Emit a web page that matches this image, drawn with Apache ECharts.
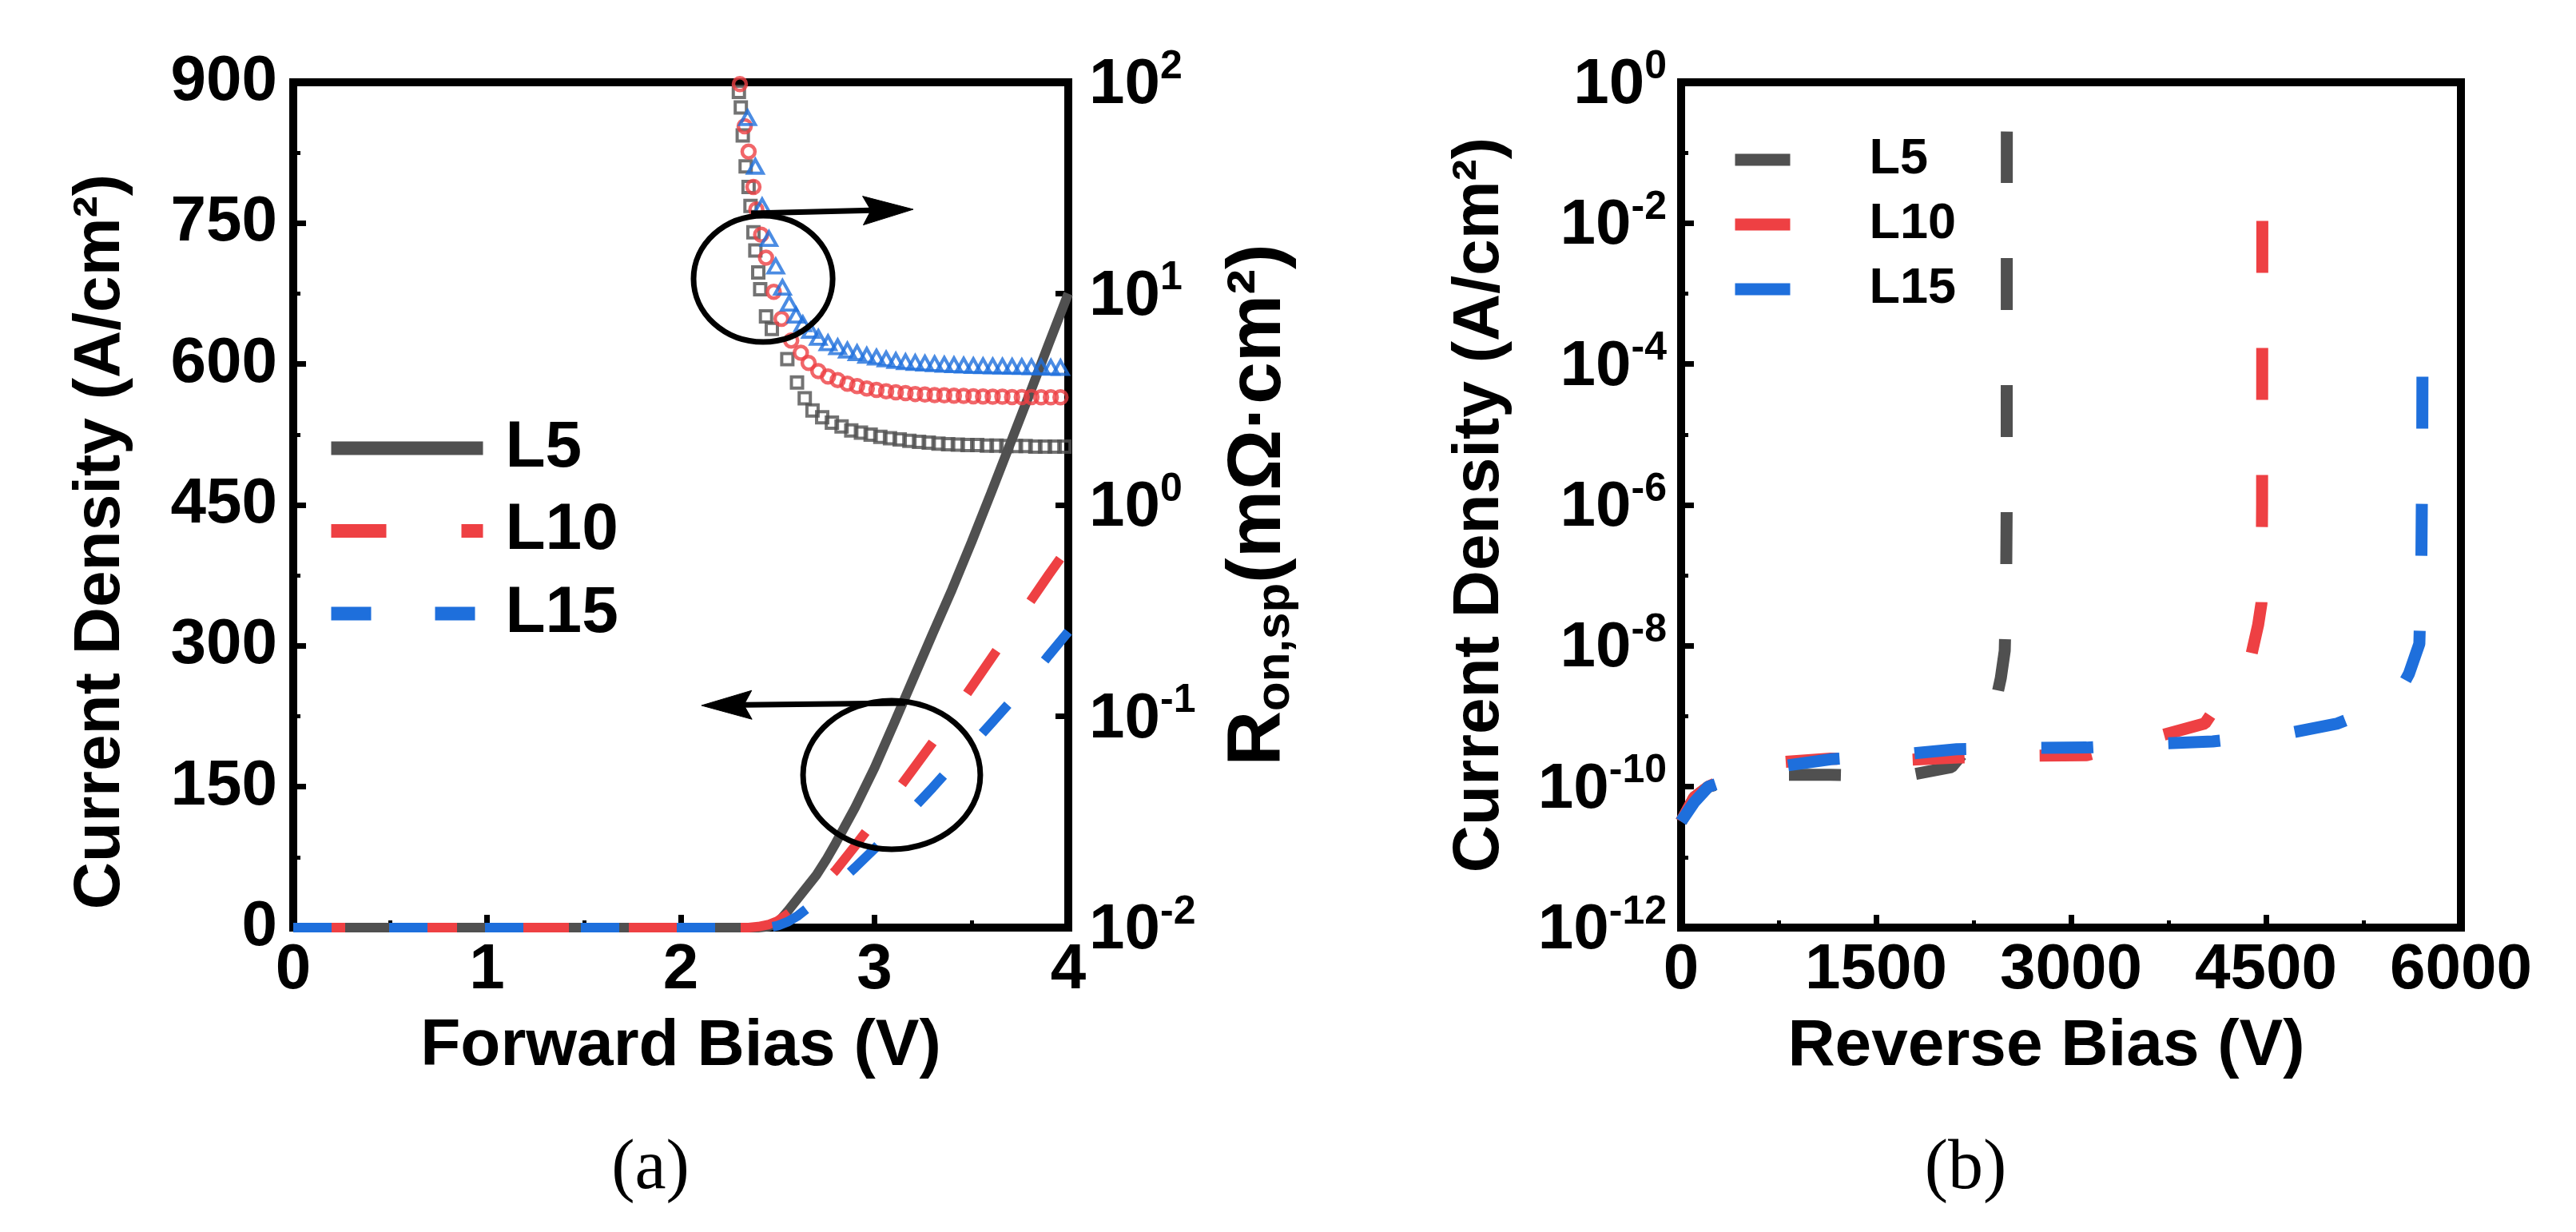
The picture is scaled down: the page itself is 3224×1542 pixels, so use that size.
<!DOCTYPE html>
<html>
<head>
<meta charset="utf-8">
<script src="https://cdn.jsdelivr.net/npm/echarts@6/dist/echarts.min.js"></script>
<style>
html,body{margin:0;padding:0;background:#fff;}
#c{width:3224px;height:1542px;}
</style>
</head>
<body>
<div id="c"></div>
<script>
// ---------------- DATA ----------------
// Panel (a): forward J-V curves  [V, J (A/cm^2)]
const fwdL5 = [[0,0],[0.5,0],[1,0],[1.5,0],[2,0],[2.4,0],[2.45,1],[2.5,5],[2.55,17],[2.6,30],[2.65,43],[2.7,56],[2.75,72],[2.8,90],[2.9,128],[3,170],[3.1,217],[3.2,265],[3.3,313],[3.4,360],[3.5,410],[3.6,462],[3.7,515],[3.8,568],[3.9,622],[4,675]];
const fwdL10 = [[0,0],[0.5,0],[1,0],[1.5,0],[2,0],[2.35,0],[2.4,1],[2.45,3],[2.5,7],[2.55,14],[2.6,22],[2.65,31],[2.7,40],[2.75,50],[2.8,61],[2.9,87],[3,114],[3.1,141],[3.2,169],[3.3,197],[3.4,226],[3.5,256],[3.6,286],[3.7,316],[3.8,346],[3.9,376],[4,405]];
const fwdL15 = [[0,0],[0.5,0],[1,0],[1.5,0],[2,0],[2.45,0],[2.5,2],[2.55,6],[2.6,12],[2.65,20],[2.7,28],[2.8,45],[2.9,64],[3,84],[3.1,105],[3.2,127],[3.3,149],[3.4,172],[3.5,194],[3.6,217],[3.7,240],[3.8,264],[3.9,290],[4,315]];

// Panel (a): specific on-resistance  [V, Ron,sp (mOhm*cm^2)]
const ronL5 = [[2.300,90],[2.310,76],[2.320,56],[2.335,40],[2.350,32],[2.360,26],[2.375,19.5],[2.385,16],[2.400,12.6],[2.410,10.5],[2.440,7.8],[2.470,6.8],[2.550,4.9],[2.600,3.8],[2.640,3.2],[2.680,2.8],[2.730,2.6],[2.780,2.45],[2.830,2.35],[2.880,2.25],[2.930,2.2],[2.980,2.15],[3.030,2.1],[3.080,2.07],[3.130,2.04],[3.180,2.01],[3.230,1.99],[3.280,1.97],[3.330,1.95],[3.380,1.94],[3.430,1.93],[3.480,1.92],[3.530,1.92],[3.580,1.91],[3.630,1.91],[3.680,1.90],[3.730,1.90],[3.780,1.90],[3.830,1.89],[3.880,1.89],[3.930,1.89],[3.980,1.89]];
const ronL10 = [[2.305,98],[2.330,62],[2.350,47],[2.375,32],[2.390,25],[2.415,19],[2.440,14.8],[2.480,10.2],[2.520,7.6],[2.570,6.0],[2.620,5.25],[2.660,4.7],[2.710,4.3],[2.760,4.05],[2.810,3.9],[2.860,3.75],[2.910,3.65],[2.960,3.56],[3.010,3.5],[3.060,3.45],[3.110,3.41],[3.160,3.38],[3.210,3.35],[3.260,3.33],[3.310,3.31],[3.360,3.30],[3.410,3.29],[3.460,3.28],[3.510,3.27],[3.560,3.26],[3.610,3.25],[3.660,3.25],[3.710,3.24],[3.760,3.24],[3.810,3.24],[3.860,3.23],[3.910,3.23],[3.960,3.23]];
const ronL15 = [[2.345,68],[2.385,40],[2.420,26],[2.455,18.2],[2.490,13.5],[2.525,10.7],[2.560,9.0],[2.595,7.9],[2.630,7.2],[2.670,6.7],[2.710,6.2],[2.760,5.85],[2.810,5.6],[2.860,5.4],[2.910,5.25],[2.960,5.1],[3.010,5.0],[3.060,4.9],[3.110,4.82],[3.160,4.76],[3.210,4.72],[3.260,4.68],[3.310,4.65],[3.360,4.62],[3.410,4.6],[3.460,4.58],[3.510,4.56],[3.560,4.55],[3.610,4.54],[3.660,4.53],[3.710,4.52],[3.760,4.51],[3.810,4.5],[3.860,4.49],[3.910,4.48],[3.960,4.47]];

// Panel (b): reverse blocking curves  [V, J (A/cm^2)]
const revL5 = [[0,3.2e-11],[100,7e-11],[210,1.0e-10],[450,1.3e-10],[725,1.48e-10],[1150,1.48e-10],[1700,1.4e-10],[2080,1.9e-10],[2250,4.5e-10],[2420,1.6e-9],[2460,3.5e-9],[2490,8.5e-9],[2500,5e-8],[2505,1e-6],[2506,0.2]];
const revL10 = [[0,3.2e-11],[100,7e-11],[210,1.0e-10],[450,1.6e-10],[725,2.2e-10],[1150,2.5e-10],[1720,2.4e-10],[2140,2.6e-10],[2720,2.75e-10],[3120,2.8e-10],[3400,3.8e-10],[3670,5.2e-10],[4030,7.9e-10],[4200,2.3e-9],[4390,7.8e-9],[4440,2e-8],[4465,4e-8],[4470,1e-6],[4472,2e-2]];
const revL15 = [[0,3.2e-11],[100,6e-11],[210,1.0e-10],[450,1.4e-10],[725,1.9e-10],[1150,2.45e-10],[1720,2.9e-10],[2120,3.4e-10],[2720,3.55e-10],[3120,3.6e-10],[3700,4.1e-10],[4090,4.4e-10],[4670,5.75e-10],[5050,7.9e-10],[5300,1.2e-9],[5510,2e-9],[5600,4e-9],[5680,1.07e-8],[5695,1.2e-7],[5702,5e-6],[5705,4e-4]];

// Series names / tick settings
const seriesNames = ['L5', 'L10', 'L15'];
const fwdTicks = {min: 0, max: 4, interval: 1};
const jTicks = {min: 0, max: 900, interval: 150};
const ronTicks = {min: 0.01, max: 100};
const revTicks = {min: 0, max: 6000, interval: 1500};
const revJTicks = {min: 1e-12, max: 1};

// Annotation anchors (data coords of panel a: [V, J])
const ovalTop = {v: [2.066, 2.784], j: [623.5, 758]};
const ovalBottom = {v: [2.631, 3.546], j: [83.4, 241.6]};
const arrowToRight = [[2.363, 760.5], [3.200, 764.7]];
const arrowToLeft = [[3.159, 239], [2.107, 236.5]];

// ---------------- STYLE ----------------
const FONT = '"Liberation Sans", Arial, Helvetica, sans-serif';
const GRAY = '#505050', RED = '#EE4043', BLUE = '#1E6FDC';
const T = (size, extra) => Object.assign({fontFamily: FONT, fontWeight: 'bold', fontSize: size, color: '#000'}, extra || {});
const AXLINE = {show: true, onZero: false, lineStyle: {color: '#000', width: 10, cap: 'square'}};
const TICK = {show: true, inside: true, length: 16, lineStyle: {color: '#000', width: 7}};
const MINOR = {show: true, splitNumber: 2, length: 9, lineStyle: {color: '#000', width: 5}};
const NOSPLIT = {show: false};
const TICKFONT = 80;

const supFmt = v => '{b|10}{s|' + Math.round(Math.log10(v)) + '}';
const supRich = {
  b: T(TICKFONT, {lineHeight: 88, verticalAlign: 'bottom'}),
  s: T(50, {lineHeight: 54, verticalAlign: 'top'})
};

const chart = echarts.init(document.getElementById('c'));

const option = {
  animation: false,
  backgroundColor: '#fff',
  textStyle: {fontFamily: FONT},
  grid: [
    {left: 367, top: 103, width: 970, height: 1058, show: true, borderColor: '#000', borderWidth: 10, backgroundColor: 'transparent', containLabel: false, outerBoundsMode: 'none'},
    {left: 2104, top: 103, width: 976, height: 1058, show: true, borderColor: '#000', borderWidth: 10, backgroundColor: 'transparent', containLabel: false, outerBoundsMode: 'none'}
  ],
  xAxis: [
    Object.assign({gridIndex: 0, type: 'value', position: 'bottom', axisLine: AXLINE, axisTick: TICK, minorTick: MINOR,
      splitLine: NOSPLIT, minorSplitLine: NOSPLIT,
      axisLabel: T(TICKFONT, {margin: 14, showMinLabel: true, showMaxLabel: true}),
      name: 'Forward Bias (V)', nameLocation: 'middle', nameGap: 108,
      nameTextStyle: T(82, {lineHeight: 82})}, fwdTicks),
    Object.assign({gridIndex: 1, type: 'value', position: 'bottom', axisLine: AXLINE, axisTick: TICK, minorTick: MINOR,
      splitLine: NOSPLIT, minorSplitLine: NOSPLIT,
      axisLabel: T(TICKFONT, {margin: 14, showMinLabel: true, showMaxLabel: true, formatter: v => String(v)}),
      name: 'Reverse Bias (V)', nameLocation: 'middle', nameGap: 108,
      nameTextStyle: T(82, {lineHeight: 82, padding: [0, 62, 0, 0]})}, revTicks)
  ],
  yAxis: [
    Object.assign({gridIndex: 0, type: 'value', position: 'left', axisLine: AXLINE, axisTick: TICK, minorTick: MINOR,
      splitLine: NOSPLIT, minorSplitLine: NOSPLIT,
      axisLabel: T(TICKFONT, {margin: 20, showMinLabel: true, showMaxLabel: true}),
      name: 'Current Density (A/cm²)', nameLocation: 'middle', nameGap: 200,
      nameTextStyle: T(82, {lineHeight: 82, padding: [0, 92, 0, 0]})}, jTicks),
    Object.assign({gridIndex: 0, type: 'log', logBase: 10, interval: 1, position: 'right', axisLine: AXLINE, axisTick: TICK,
      splitLine: NOSPLIT,
      axisLabel: {margin: 26, formatter: supFmt, rich: supRich, showMinLabel: true, showMaxLabel: true},
      name: '{R|R}{sub|on,sp}{n|(mΩ·cm²)}', nameLocation: 'middle', nameGap: 189,
      nameTextStyle: {rich: {
        R: T(95, {lineHeight: 100}),
        sub: T(60, {lineHeight: 32, verticalAlign: 'bottom'}),
        n: T(95, {lineHeight: 100})
      }}}, ronTicks),
    Object.assign({gridIndex: 1, type: 'log', logBase: 10, interval: 2, position: 'left', axisLine: AXLINE, axisTick: TICK,
      splitLine: NOSPLIT,
      axisLabel: {margin: 18, formatter: supFmt, rich: supRich, showMinLabel: true, showMaxLabel: true},
      name: 'Current Density (A/cm²)', nameLocation: 'middle', nameGap: 211,
      nameTextStyle: T(82, {lineHeight: 82})}, revJTicks),
    // minor (odd-decade) ticks of panel (b)
    Object.assign({gridIndex: 1, type: 'log', logBase: 10, interval: 1, position: 'left', offset: 0,
      axisLine: {show: false}, axisTick: {show: true, inside: true, length: 9, lineStyle: {color: '#000', width: 5}},
      axisLabel: {show: false}, splitLine: NOSPLIT}, revJTicks)
  ],
  legend: [
    {orient: 'vertical', left: 406, top: 520, padding: 0, itemWidth: 190, itemHeight: 17, itemGap: 21.5,
      itemStyle: {opacity: 0}, selectedMode: false,
      textStyle: T(82, {lineHeight: 82, padding: [0, 0, 0, 23]}),
      data: [
        {name: 'L5', lineStyle: {width: 17, type: 'solid', color: GRAY}},
        {name: 'L10', lineStyle: {width: 17, type: [69, 94], color: RED}},
        {name: 'L15', lineStyle: {width: 17, type: [50, 80], color: BLUE}}
      ]},
    {orient: 'vertical', left: 2164, top: 168.5, padding: 0, itemWidth: 69, itemHeight: 15, itemGap: 18,
      itemStyle: {opacity: 0}, selectedMode: false,
      formatter: n => n.split(' ')[0],
      textStyle: T(63, {lineHeight: 63, padding: [0, 0, 0, 94]}),
      data: [
        {name: 'L5 reverse', lineStyle: {width: 15, type: 'solid', color: GRAY}},
        {name: 'L10 reverse', lineStyle: {width: 15, type: 'solid', color: RED}},
        {name: 'L15 reverse', lineStyle: {width: 15, type: 'solid', color: BLUE}}
      ]}
  ],
  series: [
    {name: seriesNames[0], type: 'line', xAxisIndex: 0, yAxisIndex: 0, data: fwdL5, symbol: 'none', z: 3,
      lineStyle: {color: GRAY, width: 12}, itemStyle: {color: GRAY}},
    {name: seriesNames[1], type: 'line', xAxisIndex: 0, yAxisIndex: 0, data: fwdL10, symbol: 'none', z: 3,
      lineStyle: {color: RED, width: 12, type: [65, 75]}, itemStyle: {color: RED}},
    {name: seriesNames[2], type: 'line', xAxisIndex: 0, yAxisIndex: 0, data: fwdL15, symbol: 'none', z: 3,
      lineStyle: {color: BLUE, width: 12, type: [48, 72]}, itemStyle: {color: BLUE}},
    {name: 'L5 Ron,sp', type: 'scatter', xAxisIndex: 0, yAxisIndex: 1, data: ronL5, symbol: 'rect', symbolSize: 14, z: 4,
      itemStyle: {color: 'rgba(0,0,0,0)', borderColor: GRAY, borderWidth: 4}},
    {name: 'L10 Ron,sp', type: 'scatter', xAxisIndex: 0, yAxisIndex: 1, data: ronL10, symbol: 'circle', symbolSize: 16, z: 4,
      itemStyle: {color: 'rgba(0,0,0,0)', borderColor: RED, borderWidth: 4.5}},
    {name: 'L15 Ron,sp', type: 'scatter', xAxisIndex: 0, yAxisIndex: 1, data: ronL15, symbol: 'triangle', symbolSize: [19, 17], z: 4,
      itemStyle: {color: 'rgba(0,0,0,0)', borderColor: BLUE, borderWidth: 4}},
    {name: 'L5 reverse', type: 'line', xAxisIndex: 1, yAxisIndex: 2, data: revL5, symbol: 'none', z: 3,
      lineStyle: {color: GRAY, width: 15, type: [65, 94]}, itemStyle: {color: GRAY}},
    {name: 'L10 reverse', type: 'line', xAxisIndex: 1, yAxisIndex: 2, data: revL10, symbol: 'none', z: 3,
      lineStyle: {color: RED, width: 15, type: [65, 94]}, itemStyle: {color: RED}},
    {name: 'L15 reverse', type: 'line', xAxisIndex: 1, yAxisIndex: 2, data: revL15, symbol: 'none', z: 3,
      lineStyle: {color: BLUE, width: 15, type: [65, 94]}, itemStyle: {color: BLUE}}
  ]
};
chart.setOption(option);

// ---------------- ANNOTATIONS ----------------
const toPx = p => chart.convertToPixel({xAxisIndex: 0, yAxisIndex: 0}, p);
function ovalEl(o) {
  const a = toPx([o.v[0], o.j[0]]), b = toPx([o.v[1], o.j[1]]);
  return {type: 'ellipse', z: 100, silent: true,
    shape: {cx: (a[0] + b[0]) / 2, cy: (a[1] + b[1]) / 2, rx: Math.abs(b[0] - a[0]) / 2, ry: Math.abs(b[1] - a[1]) / 2},
    style: {fill: 'none', stroke: '#000', lineWidth: 7}};
}
function arrowEls(ar) {
  const s = toPx(ar[0]), t = toPx(ar[1]);
  const dx = t[0] - s[0], dy = t[1] - s[1], L = Math.hypot(dx, dy);
  const ux = dx / L, uy = dy / L, nx = -uy, ny = ux;
  const HL = 63, HW = 18, NOTCH = 10;
  const bx = t[0] - ux * HL, by = t[1] - uy * HL;
  return [
    {type: 'line', z: 100, silent: true, shape: {x1: s[0], y1: s[1], x2: bx + ux * NOTCH, y2: by + uy * NOTCH},
      style: {stroke: '#000', lineWidth: 7}},
    {type: 'polygon', z: 100, silent: true,
      shape: {points: [[t[0], t[1]], [bx + nx * HW, by + ny * HW], [bx + ux * NOTCH, by + uy * NOTCH], [bx - nx * HW, by - ny * HW]]},
      style: {fill: '#000', stroke: '#000', lineWidth: 1}}
  ];
}
const els = [ovalEl(ovalTop), ovalEl(ovalBottom)].concat(arrowEls(arrowToRight), arrowEls(arrowToLeft));
els.push({type: 'text', z: 100, silent: true, x: 814, y: 1464,
  style: {text: '(a)', fontFamily: '"Liberation Serif", "Times New Roman", serif', fontSize: 88, fill: '#000', align: 'center', verticalAlign: 'middle'}});
els.push({type: 'text', z: 100, silent: true, x: 2460, y: 1464,
  style: {text: '(b)', fontFamily: '"Liberation Serif", "Times New Roman", serif', fontSize: 88, fill: '#000', align: 'center', verticalAlign: 'middle'}});
chart.setOption({graphic: {elements: els}});
</script>
</body>
</html>
